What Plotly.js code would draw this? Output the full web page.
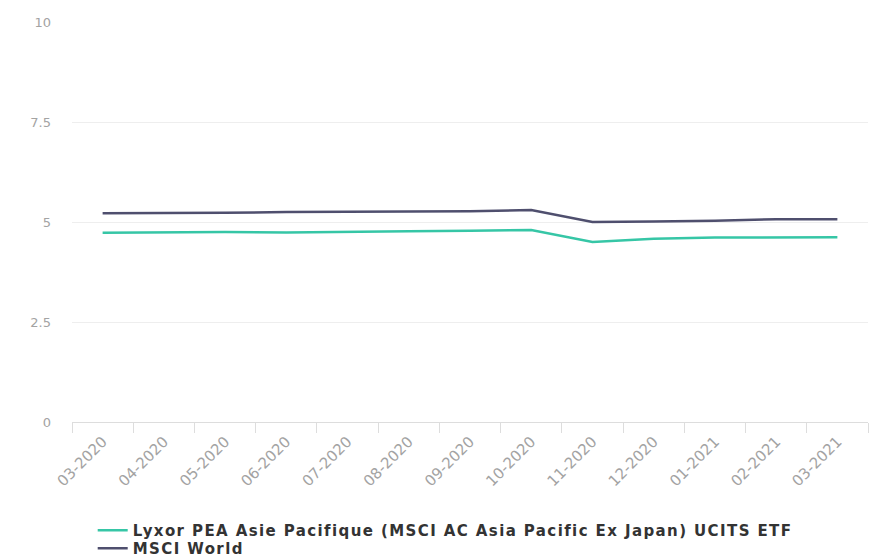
<!DOCTYPE html>
<html>
<head>
<meta charset="utf-8">
<script src="https://cdn.plot.ly/plotly-3.0.1.min.js"></script>
<style>
html,body{margin:0;padding:0;background:#fff;}
#chart{width:870px;height:559px;}
.legendtext{letter-spacing:1.4px;}
</style>
</head>
<body>
<div id="chart"></div>
<script>
const months = ["03-2020","04-2020","05-2020","06-2020","07-2020","08-2020","09-2020","10-2020","11-2020","12-2020","01-2021","02-2021","03-2021"];
const fundName = "Lyxor PEA Asie Pacifique (MSCI AC Asia Pacific Ex Japan) UCITS ETF";
const worldName = "MSCI World";
const fundValues = [4.73, 4.74, 4.75, 4.74, 4.76, 4.77, 4.78, 4.80, 4.50, 4.58, 4.61, 4.62, 4.62];
const worldValues = [5.22, 5.22, 5.23, 5.25, 5.26, 5.27, 5.27, 5.30, 5.00, 5.01, 5.03, 5.07, 5.07];
const yTicks = [0, 2.5, 5, 7.5, 10];
const yTickLabels = ["0", "2.5", "5", "7.5", "10"];

const traces = [
  {x: months, y: fundValues, name: fundName, type: "scatter", mode: "lines",
   line: {color: "#36c6a6", width: 2.5}},
  {x: months, y: worldValues, name: worldName, type: "scatter", mode: "lines",
   line: {color: "#4f4f6e", width: 2.5}}
];

const layout = {
  width: 870, height: 559,
  margin: {l: 72, r: 2, t: 22, b: 137, autoexpand: false},
  paper_bgcolor: "#fff", plot_bgcolor: "#fff",
  font: {family: "DejaVu Sans, sans-serif", color: "#999", size: 11},
  showlegend: true,
  legend: {
    x: 0.026, y: -0.2325, xanchor: "left", yanchor: "top",
    orientation: "v", tracegroupgap: 0,
    font: {size: 15, color: "#333", family: "DejaVu Sans, sans-serif", weight: "bold"}
  },
  xaxis: {
    type: "category", range: [-0.5, 12.5], automargin: false,
    tickson: "boundaries", ticks: "outside", ticklen: 10, tickcolor: "#ddd",
    tickangle: -45, showgrid: false, zeroline: false, ticklabelstandoff: 4,
    showline: true, linecolor: "#ddd", linewidth: 1,
    tickfont: {size: 15, color: "#a3a3a3", family: "DejaVu Sans, sans-serif"}
  },
  yaxis: {
    range: [0, 10], tickvals: yTicks, ticktext: yTickLabels, automargin: false,
    showgrid: true, gridcolor: "#eeeeee", zeroline: false,
    showline: false, ticks: "", ticklabelstandoff: 20,
    tickfont: {size: 13, color: "#a3a3a3", family: "DejaVu Sans, sans-serif"}
  }
};

Plotly.newPlot("chart", traces, layout, {displayModeBar: false, staticPlot: true}).then(function (gd) {
  // tighten legend row spacing to match the reference
  const items = gd.querySelectorAll(".legend .traces");
  if (!items.length) return;
  const re = /translate\(([-\d.]+),\s*([-\d.]+)\)/;
  const first = re.exec(items[0].getAttribute("transform") || "");
  if (!first) return;
  const y0 = parseFloat(first[2]) - 1;
  const step = 18;
  items.forEach(function (g, i) {
    const m = re.exec(g.getAttribute("transform") || "");
    if (m) g.setAttribute("transform", "translate(" + parseFloat(m[1]) + "," + (y0 + i * step) + ")");
  });
});
</script>
</body>
</html>
